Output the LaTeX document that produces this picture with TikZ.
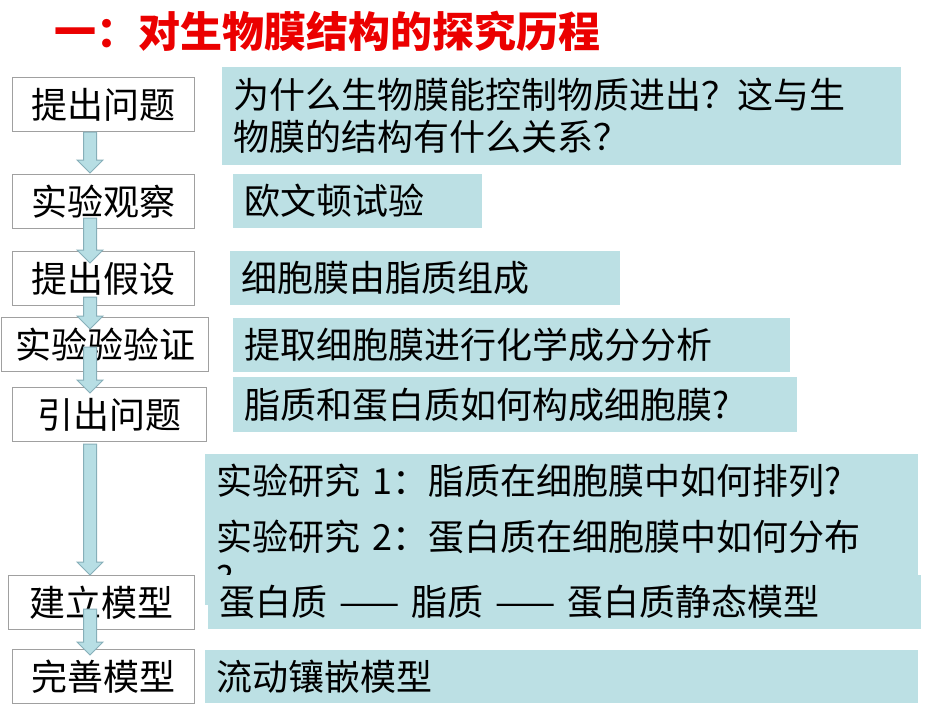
\documentclass[tikz,border=0pt]{standalone}
\usepackage{fontspec}
\newfontfamily\cjk{Noto Sans CJK SC}
\usetikzlibrary{calc}

\definecolor{notefill}{RGB}{188,224,228}
\definecolor{flowfill}{RGB}{183,222,228}
\definecolor{flowline}{RGB}{135,175,185}
\definecolor{stageline}{RGB}{160,160,160}
\definecolor{headred}{RGB}{235,0,0}

% block arrow between two stage boxes, shifts in pt
\newcommand{\flowarrow}[4]{%
  \path [flow] let \p1 = ([yshift=#2pt]#1.south), \p2 = ([yshift=#4pt]#3.north) in
    (83.5pt,\y1) -- (96.5pt,\y1) -- (96.5pt,\y2+13pt) -- (103pt,\y2+13pt)
    -- (90pt,\y2) -- (77pt,\y2+13pt) -- (83.5pt,\y2+13pt) -- cycle;}

\begin{document}
\begin{tikzpicture}[x = 1pt, y = -1pt,
                    title/.style = {anchor = west, inner sep = 0pt, text = headred,
                                    font = \cjk\bfseries\fontsize{42}{46}\selectfont},
                    stage/.style = {anchor = north west, draw = stageline, line width = 1.2pt,
                                    fill = white, minimum width = #1, minimum height = 54pt,
                                    inner sep = 0pt, font = \cjk\fontsize{36}{40}\selectfont},
                    note/.style = {anchor = north west, fill = notefill, text width = #1,
                                   minimum height = 54pt, inner xsep = 11pt, inner ysep = 0pt,
                                   align = left, font = \cjk\fontsize{36}{42}\selectfont},
                    flow/.style = {fill = flowfill, draw = flowline, line width = 1pt}]
  \useasboundingbox (0,0) rectangle (950,713);

  \node [title] (heading) at (54,31) {一：对生物膜结构的探究历程};

  % steps on the left
  \node [stage = 182pt] (s1) at (12,77) {提出问题};
  \node [stage = 182pt] (s2) at (12,174) {实验观察};
  \node [stage = 182pt] (s3) at (12,251) {提出假设};
  \node [stage = 207pt] (s4) at (1,317) {实验验验证};
  \node [stage = 194pt] (s5) at (12,387) {引出问题};
  \node [stage = 186pt] (s6) at (8,575) {建立模型};
  \node [stage = 182pt] (s7) at (12,649) {完善模型};

  % notes on the right
  \node [note = 657pt, minimum height = 98pt] (n1) at (222,67)
        {为什么生物膜能控制物质进出？这与生\\物膜的结构有什么关系？};
  \node [note = 227pt] (n2) at (233,174) {欧文顿试验};
  \node [note = 368pt] (n3) at (230,251) {细胞膜由脂质组成};
  \node [note = 535pt] (n4) at (233,318) {提取细胞膜进行化学成分分析};
  \node [note = 542pt, minimum height = 55pt] (n5) at (233,377) {脂质和蛋白质如何构成细胞膜?};
  \node [note = 691pt] (n6) at (205,454) {实验研究 1：脂质在细胞膜中如何排列?};
  \node [note = 691pt, minimum height = 97pt] (n7) at (205,508)
        {实验研究 2：蛋白质在细胞膜中如何分布\\?};
  \node [note = 691pt] (n8) at (208,575) {蛋白质 —— 脂质 —— 蛋白质静态模型};
  \node [note = 691pt, minimum height = 53pt] (n9) at (205,650) {流动镶嵌模型};

  % arrows between the steps
  \flowarrow{s1}{0}{s2}{1}
  \flowarrow{s2}{11}{s3}{-12}
  \flowarrow{s3}{9}{s4}{-12}
  \flowarrow{s4}{25}{s5}{-6}
  \flowarrow{s5}{-2}{s6}{0}
  \flowarrow{s6}{21}{s7}{-6}
\end{tikzpicture}
\end{document}
